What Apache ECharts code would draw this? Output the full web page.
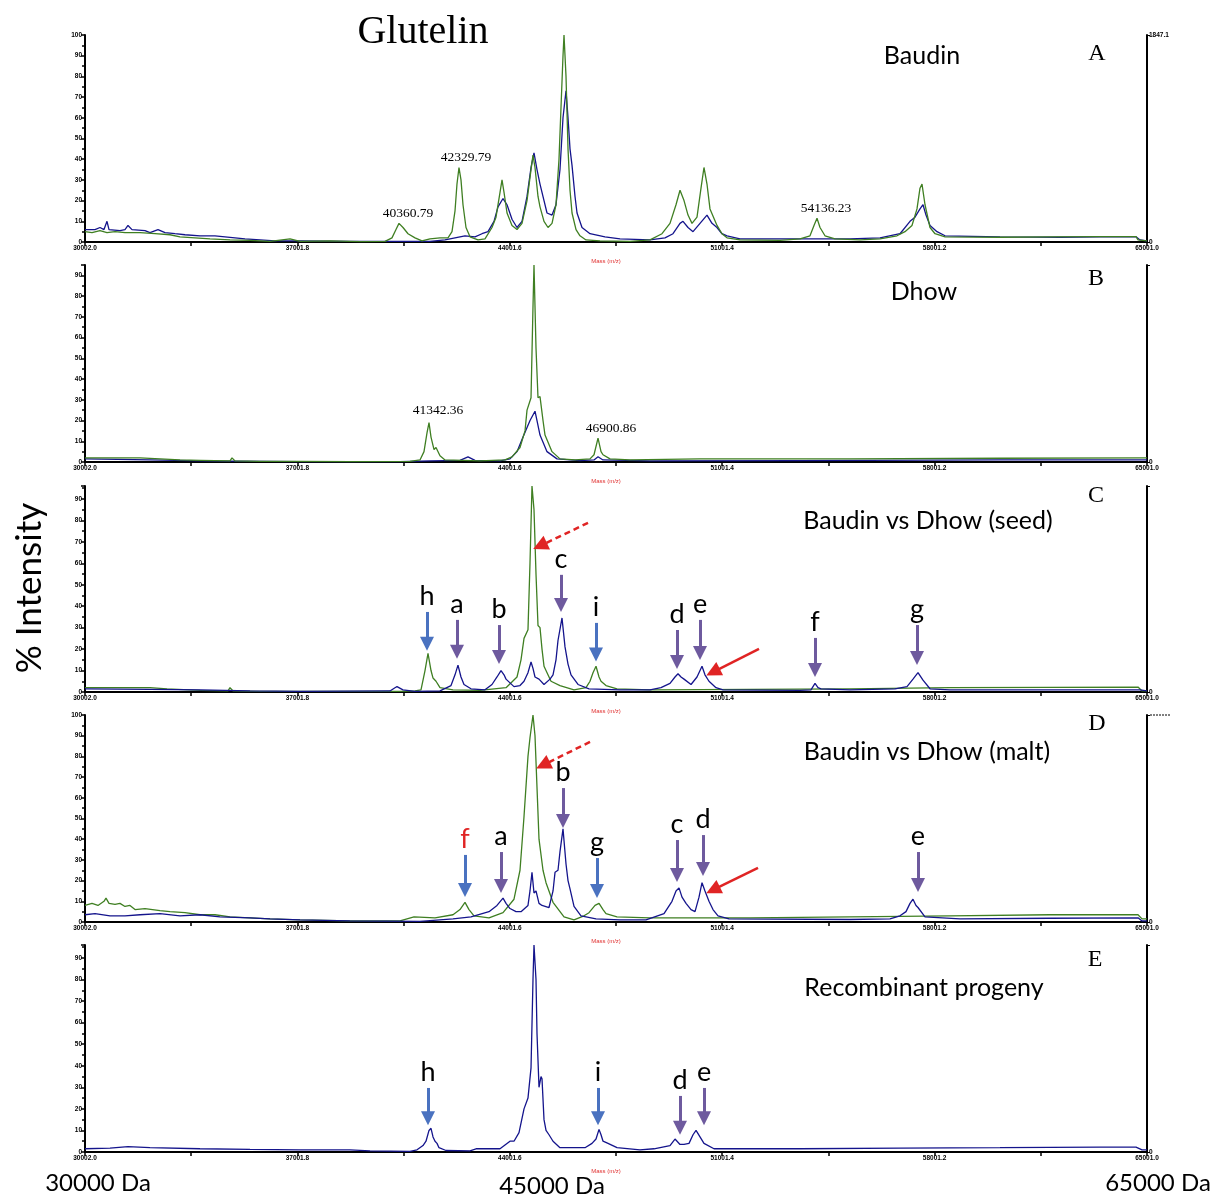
<!DOCTYPE html>
<html>
<head>
<meta charset="utf-8">
<script src="https://cdn.jsdelivr.net/npm/echarts@6/dist/echarts.min.js"></script>
<style>
  html, body { margin: 0; padding: 0; background: #fff; }
  #chart { width: 1211px; height: 1197px; }
</style>
</head>
<body>
<div id="chart"></div>
<script>
// mass axis ticks (Da)
const tickMasses = [30002.0, 33501.9, 37001.8, 40501.7, 44001.6, 47501.5, 51001.4, 54501.3, 58001.2, 61501.1, 65001.0]
const labelMasses = [30002.0, 37001.8, 44001.6, 51001.4, 58001.2, 65001.0]

// spectra, [mass, % intensity]
const greenA = [[30002,5],[30233,4.5],[30496,5.5],[30727,4.5],[30991,5],[31320,4.5],[31815,4.5],[32309,4],[32803,3.5],[33133,2.5],[33627,2],[34122,1.5],[34781,1],[35440,0.8],[36099,0.3],[36760,1.5],[37088,0.3],[38076,0.5],[39065,0.2],[39889,0.3],[40119,2],[40251,6],[40350,9],[40482,7],[40647,4],[40878,2],[41108,0.5],[41372,1.5],[41701,2],[41965,2],[42097,5],[42196,15],[42261,28],[42327,36],[42393,30],[42459,18],[42558,7],[42690,2.5],[42954,1],[43184,1.5],[43415,7],[43547,12],[43679,24],[43745,30],[43811,24],[43910,14],[44074,8],[44239,6],[44404,9],[44569,20],[44701,35],[44766,42],[44832,36],[44931,22],[44997,17],[45129,10],[45261,7],[45393,9],[45524,18],[45623,40],[45689,65],[45755,90],[45788,100],[45854,80],[45920,45],[45986,25],[46052,14],[46184,6],[46315,3],[46513,1],[46974,0.5],[47963,0.3],[48622,1],[49017,4],[49281,9],[49479,18],[49611,25],[49743,20],[49875,13],[50006,9],[50171,12],[50303,26],[50401,36],[50500,28],[50599,16],[50830,8],[50994,4],[51160,2],[51588,1],[52906,0.8],[53565,1.5],[53895,3],[54027,8],[54126,11.5],[54225,7],[54389,3],[54719,1.5],[55543,1],[56203,1.5],[56762,3],[57025,5],[57256,8],[57421,16],[57520,26],[57586,28],[57685,18],[57850,7],[58015,4],[58345,2.5],[60157,2.3],[61805,2.5],[63453,2.6],[64639,2.6],[64705,1],[65001,0.5]]
const blueA = [[30002,6],[30332,6],[30496,7],[30628,6],[30727,10],[30793,6],[31155,5.5],[31320,6],[31419,8],[31551,6],[31979,5.5],[32144,4.5],[32408,6],[32639,4.5],[32968,4],[33298,3.5],[33792,3],[34286,3],[34616,2.5],[34945,2],[35275,1.5],[35769,1],[36264,0.5],[37088,0.5],[38735,0.3],[40383,0.3],[41372,0.3],[41866,1],[42196,2],[42525,3],[42855,2.5],[43085,4],[43283,5],[43481,10],[43613,17],[43778,21],[43910,18],[44074,11],[44239,7],[44404,10],[44569,22],[44701,36],[44799,43],[44898,35],[44997,28],[45129,20],[45228,14],[45393,13],[45524,18],[45656,35],[45755,60],[45854,73],[45920,60],[45986,45],[46052,37],[46151,22],[46217,14],[46381,7],[46645,4],[47139,2.5],[47633,1.5],[48622,1],[49116,2],[49380,4],[49611,9],[49710,10],[49875,7],[50040,5],[50270,9],[50500,13],[50665,9],[50830,7],[50994,4],[51160,3],[51588,1.5],[53565,1.5],[55213,1.5],[56203,2],[56861,4],[57191,10],[57355,12],[57520,16],[57619,18],[57718,13],[57850,8],[58081,5],[58345,3],[60157,2.5],[62135,2.3],[63453,2.5],[64639,2.5],[64771,1],[65001,0.5]]
const greenB = [[30002,2],[30826,2],[31815,2],[32474,1.5],[33133,1],[33792,0.8],[34781,0.5],[34847,2],[34946,0.5],[35769,0.3],[37088,0.3],[38735,0.2],[40713,0.3],[41042,1],[41174,5],[41273,14],[41339,19],[41405,12],[41504,6],[41570,7],[41701,3],[41866,1],[43020,0.5],[43844,1],[44074,2.5],[44338,7],[44503,15],[44569,25],[44701,31],[44766,75],[44799,95],[44865,55],[44931,31],[44997,31.5],[45096,20],[45162,13],[45393,5],[45656,1.5],[46151,1],[46645,1.5],[46777,3.5],[46909,11.5],[47008,5],[47073,3.5],[47304,1.5],[47963,1],[50270,1.5],[55213,1.5],[60157,1.8],[65001,2]]
const blueB = [[30002,1.5],[32144,1],[33792,0.5],[37088,0.2],[40383,0.2],[41372,0.5],[42360,0.8],[42624,2.5],[42855,0.8],[43679,0.5],[44008,1.5],[44239,5],[44437,12],[44668,20],[44832,24.5],[44898,20],[44997,13],[45228,5],[45557,1.5],[46315,0.7],[46777,1],[46909,2.5],[47073,1],[48622,0.5],[53565,0.7],[60157,1],[65001,1]]
const greenC = [[30002,2],[31155,2],[32144,2],[32705,1.5],[33792,0.8],[34715,0.5],[34781,2],[34880,0.5],[35769,0.3],[37088,0.3],[39065,0.3],[40383,0.3],[40877,0.5],[41075,1],[41207,10],[41306,18],[41405,10],[41471,6.5],[41570,5],[41701,2],[42130,1],[43020,0.8],[43877,2],[44239,7],[44371,15],[44470,25],[44601,29],[44667,60],[44733,96],[44799,85],[44865,55],[44931,31],[44997,30],[45063,20],[45129,12],[45360,5],[45656,3],[46118,1],[46513,2],[46645,5],[46744,9],[46843,12],[46942,7],[47008,5],[47172,3],[47535,1.5],[48622,1],[51918,1.2],[55213,1.5],[58509,2],[61805,2.2],[64705,2.3],[64837,0.5],[65001,0.5]]
const blueC = [[30002,1.5],[32144,1.2],[33792,1],[35440,0.5],[37088,0.3],[40053,0.5],[40218,2],[40284,2.5],[40482,1],[40877,0.3],[41701,0.5],[42064,3],[42196,8],[42294,12.5],[42393,7],[42492,3.5],[42723,1.5],[43184,1],[43415,3.5],[43580,7],[43712,10],[43811,8],[43877,6],[44140,2.5],[44338,3],[44470,5],[44601,9],[44701,14],[44766,11],[44832,7],[44964,6],[45129,3.5],[45327,6],[45426,8],[45524,15],[45590,24],[45722,34.5],[45821,21],[45920,13],[46019,8],[46250,3.5],[46612,1.5],[47633,1],[48622,1],[48984,2],[49281,4],[49446,7],[49545,8.5],[49644,7],[49743,6],[49974,3.5],[50171,7],[50336,12],[50434,8],[50566,5],[50797,2],[51028,1],[53565,0.8],[53928,1],[54060,4],[54159,2],[54258,1.5],[55213,1],[56696,1.5],[57092,2.5],[57289,6],[57454,9],[57619,5.5],[57850,1.5],[58509,1],[61805,1],[64771,1],[65001,0.5]]
const greenD = [[30002,8],[30233,9],[30430,8],[30628,10],[30694,11.5],[30793,9],[30991,8.5],[31155,9],[31320,7.5],[31485,8],[31650,6],[31979,6.5],[32474,5.5],[32803,5],[33298,4.5],[33792,3.5],[34286,3.5],[34781,2.5],[35440,2],[36099,1.5],[37088,1],[38735,0.5],[40383,0.5],[40845,2.5],[41537,2],[42130,3.5],[42360,6],[42525,9.5],[42657,6],[42822,3],[43316,2],[43778,4.5],[44140,11],[44338,25],[44470,51],[44601,80],[44667,89],[44766,100],[44832,90],[44898,65],[44964,40],[45096,25],[45195,19],[45426,9.5],[45788,2.5],[46118,1],[46447,3],[46612,4.5],[46810,8],[46942,9],[47074,6],[47172,4],[47535,2.5],[48622,2],[51918,2],[55213,2.5],[58509,3],[61805,3.5],[64705,3.5],[64837,1.5],[65001,1.5]]
const blueD = [[30002,3.5],[30332,4],[30826,3],[31320,3],[31815,3.5],[32474,4],[33133,3],[33792,3.5],[34451,2.5],[35440,2],[36099,1.5],[37088,1],[38735,0.5],[41042,0.3],[42130,1.5],[42723,2.5],[43316,5],[43580,8],[43778,11.5],[43877,9],[44008,6.5],[44206,5],[44371,5],[44601,8],[44667,15],[44733,24],[44799,14],[44865,15],[44964,9],[45063,8],[45294,7],[45426,15],[45492,24],[45590,25],[45656,34],[45755,45],[45854,28],[45920,20],[45986,16],[46118,7.5],[46348,3],[46843,1.5],[47633,1],[48490,1],[49084,4],[49347,10],[49479,15],[49578,16.5],[49677,12],[49809,9],[49974,6],[50106,5],[50237,12],[50336,19],[50434,15],[50566,10],[50698,6],[50863,3],[51226,1.5],[55213,1.2],[56531,1.5],[56861,3],[57059,5],[57191,9],[57289,11],[57388,8],[57454,7],[57685,2.5],[58839,1.5],[61805,1.8],[64705,2],[64837,0.5],[65001,0.5]]
const blueE = [[30002,1.5],[30826,1.8],[31419,2.5],[32144,2],[33792,1.5],[35440,1.2],[37088,1],[38735,1],[39395,0.5],[40713,0.3],[40944,1],[41141,3],[41240,5],[41339,10],[41405,11],[41471,7],[41537,5],[41603,4],[41668,2],[41899,0.7],[42690,0.5],[42888,1.5],[43679,1.5],[44008,5],[44140,5],[44305,9],[44470,20],[44601,25],[44701,39],[44766,80],[44799,96],[44865,80],[44898,55],[44964,30],[45030,35],[45063,34],[45129,15],[45195,10],[45294,8],[45426,5],[45656,2],[46480,2],[46711,4],[46843,6],[46942,10.5],[47008,8],[47074,5],[47139,5.5],[47238,4],[47535,2],[48292,1],[48753,1.5],[49281,3],[49446,6],[49611,3.5],[49743,3.5],[49908,4],[50040,8],[50139,10],[50270,7],[50401,4],[50731,1.5],[53565,1.5],[56861,1.8],[60157,2],[63453,2.3],[64639,2.3],[64837,1],[65001,1]]

// peak mass labels: [mass, intensity, text]
const peakLabelsA = [[40647,14,'40360.79'],[42558,41,'42329.79'],[54422,16.4,'54136.23']]
const peakLabelsB = [[41635,25,'41342.36'],[47337,16.4,'46900.86']]

// band arrows: [mass, fromIntensity, toIntensity, letter, kind]
const arrowsC = [[41273,37.3,22.5,'h','blue'],[42262,33.6,18.8,'a','purple'],[43646,31.2,16.3,'b','purple'],[45689,54.6,40.5,'c','purple'],[46843,32.2,17.5,'i','blue'],[49512,28.9,14,'d','purple'],[50270,33.6,18.2,'e','purple'],[54060,25.2,10.2,'f','purple'],[57421,31.2,15.8,'g','purple']]
const arrowsD = [[42525,32.4,15.4,'f','blue'],[43712,33.8,17.4,'a','purple'],[45755,64.7,48.8,'b','purple'],[46875,30.9,15,'g','blue'],[49512,39.6,22.7,'c','purple'],[50369,42,25.6,'d','purple'],[57454,33.8,17.9,'e','purple']]
const arrowsE = [[41306,29.7,15.7,'h','blue'],[46909,29.7,15.7,'i','blue'],[49611,26,11.2,'d','purple'],[50402,29.7,15.7,'e','purple']]
// red pointers: [fromMass, fromInt, toMass, toInt, dashed]
const redC = [[46579,78.8,44997,68.1,true],[52214,20.1,50698,9.3,false]]
const redD = [[46645,87,45096,75.8,true],[52181,26.1,50698,15.5,false]]

const GREEN = '#3f7f22'
const BLUE = '#14148c'
const ARROW = { blue: '#4a72c0', purple: '#6e5a9e' }
const RED = '#e02424'
const SANS = 'Lato, "Open Sans", sans-serif'
const SERIF = '"Liberation Serif", "DejaVu Serif", serif'
const TINY = { fontSize: 6.5, color: '#000', fontWeight: 'bold', fontFamily: 'Arial, sans-serif' }

const panels = [
  { top: 35, height: 207, max: 100, rightTop: '1847.1' },
  { top: 265, height: 197, max: 95 },
  { top: 486, height: 206, max: 96 },
  { top: 715, height: 207, max: 100 },
  { top: 945, height: 207, max: 96 }
]

const chart = echarts.init(document.getElementById('chart'), null, { renderer: 'canvas' })

const grid = panels.map(p => ({ left: 85, width: 1062, top: p.top, height: p.height }))

const xAxis = panels.map((p, i) => ({
  type: 'value', gridIndex: i, min: 30002, max: 65001,
  axisLine: { lineStyle: { color: '#000', width: 2 } },
  axisTick: { customValues: tickMasses, length: 4, lineStyle: { color: '#000', width: 1.5 } },
  axisLabel: Object.assign({ customValues: labelMasses, formatter: v => v.toFixed(1), margin: 3 }, TINY),
  splitLine: { show: false },
  name: 'Mass (m/z)', nameLocation: 'middle', nameGap: 16,
  nameTextStyle: { color: '#e03030', fontSize: 6, padding: [0, 20, 0, 0] }
}))

const yAxis = []
panels.forEach((p, i) => {
  yAxis.push({
    type: 'value', gridIndex: i, min: 0, max: p.max, interval: 10,
    axisLine: { show: true, lineStyle: { color: '#000', width: 2 } },
    axisTick: { show: true, length: 4, lineStyle: { color: '#000', width: 1.5 } },
    minorTick: { show: true, splitNumber: 2, length: 3, lineStyle: { color: '#000', width: 1.5 } },
    axisLabel: Object.assign({ margin: 3, formatter: v => (v % 10 === 0 ? String(v) : '') }, TINY),
    splitLine: { show: false }
  })
  yAxis.push({
    type: 'value', gridIndex: i, position: 'right', min: 0, max: 1, interval: 1,
    axisLine: { show: true, lineStyle: { color: '#000', width: 2 } },
    axisTick: { show: true, length: 3, lineStyle: { color: '#000' } },
    axisLabel: Object.assign({ margin: 2, formatter: v => (v === 0 ? '0' : (p.rightTop || '')) }, TINY),
    splitLine: { show: false }
  })
})

function lineSeries (data, color, i, extra) {
  return Object.assign({
    type: 'line', xAxisIndex: i, yAxisIndex: i * 2, data: data,
    showSymbol: false, symbol: 'none', silent: true, z: 3,
    lineStyle: { color: color, width: 1.3 }, itemStyle: { color: color }
  }, extra || {})
}

function peakMarks (labels) {
  return {
    silent: true, symbol: 'rect', symbolSize: 1, itemStyle: { color: 'transparent' },
    data: labels.map(l => ({
      coord: [l[0], l[1]],
      label: { show: true, position: 'inside', formatter: l[2], fontFamily: SERIF, fontSize: 13.5, color: '#000' }
    }))
  }
}

function arrowMarks (arrows, reds, letterColor) {
  const lines = arrows.map(a => {
    const ls = { color: ARROW[a[4]], width: 3, type: 'solid' }
    return [
      { coord: [a[0], a[1]], symbol: 'none', lineStyle: ls },
      { coord: [a[0], a[2]], symbol: 'triangle', symbolSize: 14, lineStyle: ls }
    ]
  })
  ;(reds || []).forEach(r => {
    const ls = { color: RED, width: 2.5, type: r[4] ? [6, 4] : 'solid' }
    lines.push([
      { coord: [r[0], r[1]], symbol: 'none', lineStyle: ls },
      { coord: [r[2], r[3]], symbol: 'triangle', symbolSize: 15, lineStyle: ls }
    ])
  })
  return {
    markLine: { silent: true, animation: false, label: { show: false }, symbol: ['none', 'triangle'], data: lines },
    markPoint: {
      silent: true, symbol: 'rect', symbolSize: 1, itemStyle: { color: 'transparent' },
      // letter sits just above the arrow tail
      data: arrows.map(a => ({
        coord: [a[0], a[1]],
        label: { show: true, position: 'top', distance: 2, formatter: a[3], fontFamily: SANS, fontSize: 27,
          color: (letterColor && letterColor[a[3]]) || '#000' }
      }))
    }
  }
}

const series = [
  lineSeries(blueA, BLUE, 0),
  lineSeries(greenA, GREEN, 0, { markPoint: peakMarks(peakLabelsA) }),
  lineSeries(blueB, BLUE, 1),
  lineSeries(greenB, GREEN, 1, { markPoint: peakMarks(peakLabelsB) }),
  lineSeries(greenC, GREEN, 2),
  lineSeries(blueC, BLUE, 2, arrowMarks(arrowsC, redC)),
  lineSeries(greenD, GREEN, 3),
  lineSeries(blueD, BLUE, 3, arrowMarks(arrowsD, redD, { f: RED })),
  lineSeries(blueE, BLUE, 4, arrowMarks(arrowsE))
]

function txt (x, y, text, size, family, color) {
  return { type: 'text', x: x, y: y, silent: true,
    style: { text: text, fontSize: size, fontFamily: family, fill: color || '#000', align: 'center', verticalAlign: 'middle' } }
}

const graphic = [
  txt(423, 32, 'Glutelin', 40, SERIF),
  txt(922, 56, 'Baudin', 25, SANS),
  txt(924, 292, 'Dhow', 25, SANS),
  txt(928, 521, 'Baudin vs Dhow (seed)', 25, SANS),
  txt(927, 752, 'Baudin vs Dhow (malt)', 25, SANS),
  txt(924, 988, 'Recombinant progeny', 25, SANS),
  txt(1097, 54, 'A', 24, SERIF),
  txt(1096, 279, 'B', 24, SERIF),
  txt(1096, 496, 'C', 24, SERIF),
  txt(1097, 724, 'D', 24, SERIF),
  txt(1095, 960, 'E', 24, SERIF),
  txt(98, 1183, '30000 Da', 24, SANS),
  txt(552, 1186, '45000 Da', 24, SANS),
  txt(1158, 1183, '65000 Da', 24, SANS),
  { type: 'text', x: 30, y: 588, rotation: Math.PI / 2, silent: true,
    style: { text: '% Intensity', fontSize: 35, fontFamily: SANS, fill: '#000', align: 'center', verticalAlign: 'middle' } },
  { type: 'line', silent: true, shape: { x1: 1150, y1: 715, x2: 1170, y2: 715 },
    style: { stroke: '#000', lineWidth: 1, lineDash: [2, 1] } }
]

chart.setOption({
  animation: false,
  backgroundColor: '#fff',
  grid: grid,
  xAxis: xAxis,
  yAxis: yAxis,
  series: series,
  graphic: graphic
})
</script>
</body>
</html>
